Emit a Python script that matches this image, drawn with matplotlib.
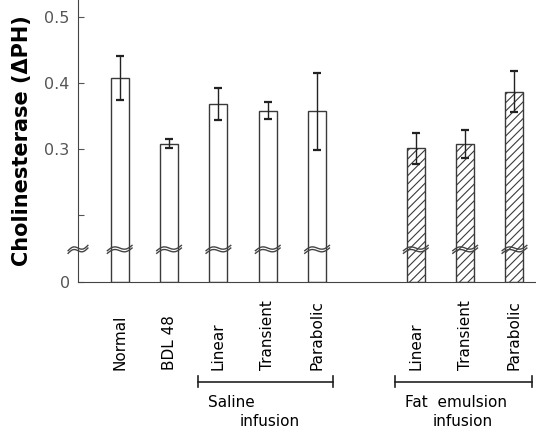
import numpy as np
import matplotlib
matplotlib.use("Agg")
import matplotlib.pyplot as plt
import matplotlib.transforms as mtransforms

# data
groups = ["Normal", "BDL 48", "Linear", "Transient", "Parabolic",
          "Linear", "Transient", "Parabolic"]
positions = [0, 1, 2, 3, 4, 6, 7, 8]
means = [0.408, 0.308, 0.368, 0.358, 0.357, 0.301, 0.308, 0.387]
errs = [0.033, 0.007, 0.024, 0.013, 0.058, 0.023, 0.021, 0.031]
fat = [False, False, False, False, False, True, True, True]

base = 0.0985      # position of the "0" on the broken axis
brk = 0.15         # where the axis break is drawn

plt.rcParams['font.family'] = 'DejaVu Sans'
plt.rcParams['hatch.linewidth'] = 0.8

fig = plt.figure(figsize=(5.36, 4.32), dpi=100)
ax = fig.add_axes([78 / 536, 1 - 282 / 432, 1 - 78 / 536, 282 / 432])

for p, m, f in zip(positions, means, fat):
    ax.bar(p, m - base, bottom=base, width=0.365, facecolor='white',
           edgecolor='#3a3a3a', linewidth=1.0,
           hatch='////' if f else None, zorder=2)

ax.errorbar(positions, means, yerr=errs, fmt='none', ecolor='#222222',
            elinewidth=1.0, capsize=3, capthick=1.6, zorder=3)

# wavy break marks across the bars and the y axis
t = np.linspace(-1, 1, 40)
def wave(xc, half):
    xs = xc + t * half
    ys = brk - 0.0035 * np.sin(np.pi * t) + 0.004 * t
    return xs, ys

for p in positions + [-0.845]:
    xs, ys = wave(p, 0.2 if p < 0 else 0.25)
    ax.plot(xs, ys, color='#444444', lw=1.0, zorder=4, clip_on=False)
    ax.plot(xs, ys - 0.004, color='#444444', lw=1.0, zorder=4, clip_on=False)

ax.set_xlim(-0.845, 8.436)
ax.set_ylim(base, 0.526)
ax.set_yticks([base, 0.2, 0.3, 0.4, 0.5])
ax.set_yticklabels(['0', '', '0.3', '0.4', '0.5'])
ax.tick_params(axis='y', direction='in', length=4, width=0.8,
               labelsize=11.5, labelcolor='#555555', color='#555555', pad=6)
ax.set_xticks([])
for s in ['top', 'right']:
    ax.spines[s].set_visible(False)
ax.spines['left'].set_color('#444444')
ax.spines['bottom'].set_color('#444444')

ax.set_ylabel('Cholinesterase (ΔPH)', fontsize=15, fontweight='bold',
              labelpad=9)

trans = mtransforms.blended_transform_factory(ax.transData, ax.transAxes)
for p, g in zip(positions, groups):
    ax.text(p, -0.312, g, rotation=90, ha='center', va='bottom',
            fontsize=11, transform=trans)

# group brackets
for x0, x1 in [(1.58, 4.32), (5.58, 8.35)]:
    ax.plot([x0, x1], [-0.353, -0.353], color='#222222', lw=1.2,
            transform=trans, clip_on=False)
    for xe in (x0, x1):
        ax.plot([xe, xe], [-0.335, -0.371], color='#222222', lw=1.2,
                transform=trans, clip_on=False)

ax.text(1.79, -0.429, 'Saline', fontsize=11, va='center', transform=trans)
ax.text(2.44, -0.496, 'infusion', fontsize=11, va='center', transform=trans)
ax.text(5.78, -0.429, 'Fat  emulsion', fontsize=11, va='center', transform=trans)
ax.text(6.35, -0.496, 'infusion', fontsize=11, va='center', transform=trans)

fig.savefig('out.png', dpi=100)
